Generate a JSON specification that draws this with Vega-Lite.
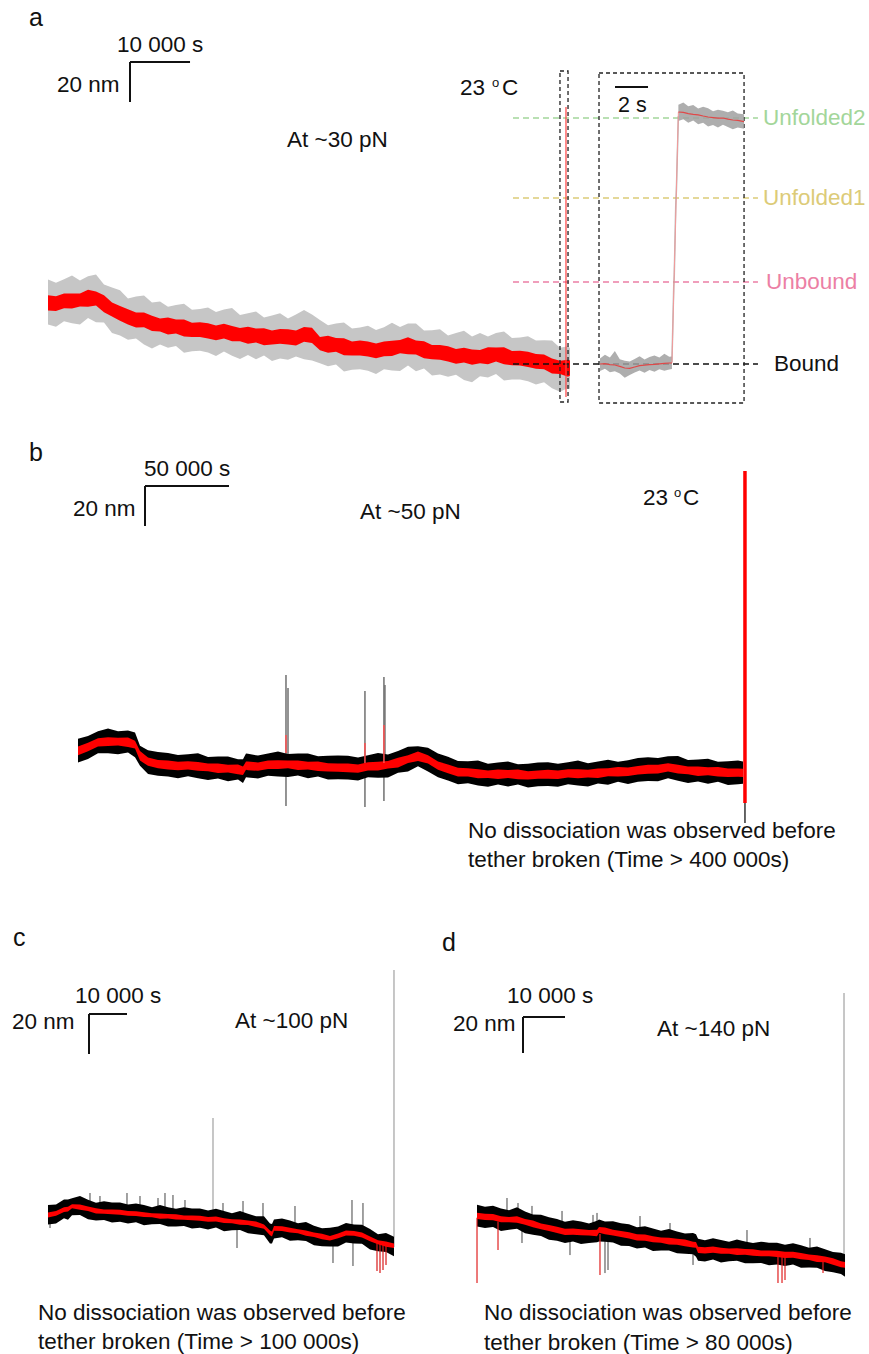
{
  "$schema": "https://vega.github.io/schema/vega-lite/v6.json",
  "padding": 0,
  "background": "white",
  "spacing": 0,
  "config": {
    "view": {"stroke": null},
    "text": {"font": "Liberation Sans", "fontSize": 22.5, "align": "left", "baseline": "alphabetic", "color": "#111111"}
  },
  "datasets": {
    "aTrace": [
      {"t": 0, "g1": 19.7, "g2": 42.2, "r1": 26.8, "r2": 34.4},
      {"t": 1.33, "g1": 18.6, "g2": 40.6, "r1": 26.5, "r2": 33.9},
      {"t": 2.67, "g1": 21.4, "g2": 42.4, "r1": 27.9, "r2": 35.3},
      {"t": 4, "g1": 20.4, "g2": 44.3, "r1": 27.7, "r2": 35.3},
      {"t": 5.33, "g1": 19.8, "g2": 41.8, "r1": 28.7, "r2": 35.3},
      {"t": 6.67, "g1": 23.0, "g2": 43.9, "r1": 28.6, "r2": 37.1},
      {"t": 8, "g1": 20.9, "g2": 44.7, "r1": 29.3, "r2": 36.2},
      {"t": 9.33, "g1": 20.7, "g2": 39.7, "r1": 25.9, "r2": 34.4},
      {"t": 10.67, "g1": 15.5, "g2": 38.2, "r1": 23.7, "r2": 30.8},
      {"t": 12, "g1": 14.3, "g2": 36.9, "r1": 21.6, "r2": 29.0},
      {"t": 13.33, "g1": 12.1, "g2": 32.7, "r1": 19.8, "r2": 27.4},
      {"t": 14.67, "g1": 12.8, "g2": 33.7, "r1": 18.3, "r2": 25.7},
      {"t": 16, "g1": 9.7, "g2": 34.3, "r1": 18.4, "r2": 25.8},
      {"t": 17.33, "g1": 7.8, "g2": 30.7, "r1": 16.5, "r2": 24.1},
      {"t": 18.67, "g1": 9.7, "g2": 31.3, "r1": 16.2, "r2": 22.8},
      {"t": 20, "g1": 8.1, "g2": 28.6, "r1": 14.8, "r2": 23.3},
      {"t": 21.33, "g1": 9.0, "g2": 29.5, "r1": 15.3, "r2": 22.2},
      {"t": 22.67, "g1": 5.6, "g2": 30.1, "r1": 13.7, "r2": 22.2},
      {"t": 24, "g1": 6.4, "g2": 27.1, "r1": 13.5, "r2": 20.6},
      {"t": 25.33, "g1": 6.6, "g2": 27.5, "r1": 13.5, "r2": 20.9},
      {"t": 26.67, "g1": 5.7, "g2": 28.2, "r1": 12.8, "r2": 20.4},
      {"t": 28, "g1": 4.0, "g2": 26.0, "r1": 11.9, "r2": 19.3},
      {"t": 29.33, "g1": 6.2, "g2": 27.2, "r1": 12.7, "r2": 20.1},
      {"t": 30.67, "g1": 4.1, "g2": 28.0, "r1": 11.4, "r2": 19.0},
      {"t": 32, "g1": 2.5, "g2": 24.5, "r1": 11.4, "r2": 18.0},
      {"t": 33.33, "g1": 4.5, "g2": 25.4, "r1": 10.1, "r2": 18.6},
      {"t": 34.67, "g1": 2.4, "g2": 26.2, "r1": 10.8, "r2": 17.7},
      {"t": 36, "g1": 4.2, "g2": 23.2, "r1": 9.4, "r2": 17.9},
      {"t": 37.33, "g1": 1.5, "g2": 24.2, "r1": 9.7, "r2": 16.8},
      {"t": 38.67, "g1": 2.8, "g2": 25.4, "r1": 10.1, "r2": 17.5},
      {"t": 40, "g1": 2.1, "g2": 22.7, "r1": 9.8, "r2": 17.4},
      {"t": 41.33, "g1": 3.8, "g2": 24.7, "r1": 9.3, "r2": 16.7},
      {"t": 42.67, "g1": 2.4, "g2": 27.0, "r1": 11.1, "r2": 18.5},
      {"t": 44, "g1": 1.8, "g2": 24.7, "r1": 10.5, "r2": 18.1},
      {"t": 45.33, "g1": 0.4, "g2": 22.0, "r1": 6.9, "r2": 13.5},
      {"t": 46.67, "g1": -1.1, "g2": 19.4, "r1": 5.6, "r2": 14.1},
      {"t": 48, "g1": -0.2, "g2": 20.3, "r1": 6.1, "r2": 13.0},
      {"t": 49.33, "g1": -3.7, "g2": 20.8, "r1": 4.4, "r2": 12.9},
      {"t": 50.67, "g1": -2.9, "g2": 17.8, "r1": 4.2, "r2": 11.3},
      {"t": 52, "g1": -2.6, "g2": 18.3, "r1": 4.3, "r2": 11.7},
      {"t": 53.33, "g1": -3.4, "g2": 19.1, "r1": 3.7, "r2": 11.3},
      {"t": 54.67, "g1": -5.0, "g2": 17.0, "r1": 2.9, "r2": 10.3},
      {"t": 56, "g1": -2.6, "g2": 18.4, "r1": 3.9, "r2": 11.3},
      {"t": 57.33, "g1": -3.3, "g2": 20.6, "r1": 4.0, "r2": 11.6},
      {"t": 58.67, "g1": -3.5, "g2": 18.5, "r1": 5.4, "r2": 12.0},
      {"t": 60, "g1": -0.7, "g2": 20.2, "r1": 4.9, "r2": 13.4},
      {"t": 61.33, "g1": -3.6, "g2": 20.2, "r1": 4.8, "r2": 11.7},
      {"t": 62.67, "g1": -2.3, "g2": 16.7, "r1": 2.9, "r2": 11.4},
      {"t": 64, "g1": -5.8, "g2": 16.9, "r1": 2.4, "r2": 9.5},
      {"t": 65.33, "g1": -5.2, "g2": 17.4, "r1": 2.1, "r2": 9.5},
      {"t": 66.67, "g1": -6.4, "g2": 14.2, "r1": 1.3, "r2": 8.9},
      {"t": 68, "g1": -5.4, "g2": 15.5, "r1": 0.1, "r2": 7.5},
      {"t": 69.33, "g1": -8.0, "g2": 16.6, "r1": 0.7, "r2": 8.1},
      {"t": 70.67, "g1": -9.1, "g2": 13.8, "r1": -0.4, "r2": 7.2},
      {"t": 72, "g1": -6.1, "g2": 15.5, "r1": 0.4, "r2": 7.0},
      {"t": 73.33, "g1": -6.8, "g2": 13.7, "r1": -0.1, "r2": 8.4},
      {"t": 74.67, "g1": -5.0, "g2": 15.5, "r1": 1.3, "r2": 8.2},
      {"t": 76, "g1": -8.2, "g2": 16.3, "r1": -0.1, "r2": 8.4},
      {"t": 77.33, "g1": -7.7, "g2": 13.0, "r1": -0.6, "r2": 6.5},
      {"t": 78.67, "g1": -7.7, "g2": 13.2, "r1": -0.8, "r2": 6.6},
      {"t": 80, "g1": -8.6, "g2": 13.9, "r1": -1.5, "r2": 6.1},
      {"t": 81.33, "g1": -10.3, "g2": 11.7, "r1": -2.4, "r2": 5.0},
      {"t": 82.67, "g1": -9.1, "g2": 11.9, "r1": -2.6, "r2": 4.8},
      {"t": 84, "g1": -12.1, "g2": 11.8, "r1": -4.8, "r2": 2.8},
      {"t": 85.33, "g1": -13.9, "g2": 8.1, "r1": -5.0, "r2": 1.6},
      {"t": 86.67, "g1": -12.0, "g2": 8.9, "r1": -6.4, "r2": 2.1},
      {"t": 87, "g1": -12.5, "g2": 8.0, "r1": -5.8, "r2": 1.8}
    ],
    "aLevels": [
      {"name": "Unfolded2", "t": 77.5, "t2": 118.33, "v": 123},
      {"name": "Unfolded1", "t": 77.5, "t2": 118.33, "v": 83},
      {"name": "Unbound", "t": 77.5, "t2": 118.33, "v": 41},
      {"name": "Bound", "t": 77.5, "t2": 118.33, "v": 0}
    ],
    "aLevelLabels": [
      {"name": "Unfolded2", "t": 119.17, "v": 123},
      {"name": "Unfolded1", "t": 119.17, "v": 83},
      {"name": "Unbound", "t": 119.67, "v": 41},
      {"name": "Bound", "t": 121, "v": 0}
    ],
    "aBox": [{"t": 85.33, "t2": 86.67, "v": -19, "v2": 146.5}],
    "aEvent": [{"t": 86.33, "v": -16.5, "v2": 128.5}],
    "aBar": [
      {"t": 13.67, "t2": 23.67, "v": 151, "v2": 151},
      {"t": 13.67, "t2": 13.67, "v": 151, "v2": 131}
    ],
    "aLetter": [{"t": -3.17, "v": 169, "label": "a"}],
    "aText": [
      {"t": 11.5, "v": 156, "label": "10 000 s"},
      {"t": 1.5, "v": 136, "label": "20 nm"},
      {"t": 39.83, "v": 108.5, "label": "At ~30 pN"},
      {"t": 68.67, "v": 134.5, "label": "23"},
      {"t": 75.67, "v": 134.5, "label": "C"}
    ],
    "aSup": [{"t": 74.0, "v": 138.5, "label": "o"}],
    "insetBox": [{"t": -0.06, "t2": 8.73, "v": -19.5, "v2": 145.5}],
    "insetTrace": [
      {"seg": "bound", "t": 0, "g1": -3.5, "g2": 2.8, "c": 0},
      {"seg": "bound", "t": 0.3, "g1": -2.4, "g2": 4.6, "c": 0.2},
      {"seg": "bound", "t": 0.6, "g1": -4.1, "g2": 3.2, "c": -0.3},
      {"seg": "bound", "t": 0.9, "g1": -3.6, "g2": 6.5, "c": -0.5},
      {"seg": "bound", "t": 1.2, "g1": -4.8, "g2": 2.4, "c": -1.2},
      {"seg": "bound", "t": 1.5, "g1": -6.9, "g2": 1.6, "c": -2.0},
      {"seg": "bound", "t": 1.8, "g1": -5.5, "g2": 1.2, "c": -2.2},
      {"seg": "bound", "t": 2.1, "g1": -4.3, "g2": 2.5, "c": -1.5},
      {"seg": "bound", "t": 2.4, "g1": -3.2, "g2": 3.9, "c": -0.8},
      {"seg": "bound", "t": 2.7, "g1": -4.4, "g2": 2.2, "c": -0.6},
      {"seg": "bound", "t": 3.0, "g1": -3.0, "g2": 3.5, "c": -0.3},
      {"seg": "bound", "t": 3.3, "g1": -3.9, "g2": 4.2, "c": -0.2},
      {"seg": "bound", "t": 3.6, "g1": -2.6, "g2": 3.3, "c": 0.1},
      {"seg": "bound", "t": 3.9, "g1": -3.4, "g2": 5.1, "c": 0.3},
      {"seg": "bound", "t": 4.2, "g1": -2.8, "g2": 3.6, "c": 0.5},
      {"seg": "bound", "t": 4.36, "g1": -2.5, "g2": 3.8, "c": 0.5},
      {"seg": "open", "t": 4.75, "g1": 121.5, "g2": 129.6, "c": 126},
      {"seg": "open", "t": 5.05, "g1": 122.4, "g2": 130.8, "c": 125.8},
      {"seg": "open", "t": 5.35, "g1": 120.6, "g2": 128.9, "c": 125.2},
      {"seg": "open", "t": 5.65, "g1": 121.8, "g2": 129.5, "c": 124.8},
      {"seg": "open", "t": 5.95, "g1": 119.9, "g2": 127.8, "c": 124.6},
      {"seg": "open", "t": 6.25, "g1": 120.6, "g2": 128.6, "c": 124.0},
      {"seg": "open", "t": 6.55, "g1": 118.8, "g2": 127.9, "c": 123.5},
      {"seg": "open", "t": 6.85, "g1": 119.5, "g2": 126.4, "c": 123.2},
      {"seg": "open", "t": 7.15, "g1": 118.2, "g2": 127.1, "c": 122.9},
      {"seg": "open", "t": 7.45, "g1": 119.6, "g2": 126.6, "c": 123.0},
      {"seg": "open", "t": 7.75, "g1": 118.5, "g2": 125.9, "c": 122.4},
      {"seg": "open", "t": 8.05, "g1": 117.4, "g2": 126.8, "c": 122.0},
      {"seg": "open", "t": 8.35, "g1": 118.3, "g2": 125.2, "c": 121.8},
      {"seg": "open", "t": 8.73, "g1": 117.6, "g2": 124.9, "c": 121.2}
    ],
    "insetJumpRaw": [
      {"t": 4.36, "v": 1},
      {"t": 4.47, "v": 39},
      {"t": 4.5, "v": 44},
      {"t": 4.59, "v": 79},
      {"t": 4.63, "v": 87},
      {"t": 4.75, "v": 124}
    ],
    "insetJump": [
      {"t": 4.36, "v": 0.5},
      {"t": 4.75, "v": 126}
    ],
    "insetBar": [{"t": 0.91, "t2": 2.91, "v": 138.5}],
    "insetText": [{"t": 1.09, "v": 126, "label": "2 s"}],
    "bTrace": [
      {"t": 0, "b1": 5.3, "b2": 17.1, "r1": 8.9, "r2": 13.3},
      {"t": 5.95, "b1": 7.0, "b2": 18.5, "r1": 10.9, "r2": 15.1},
      {"t": 11.9, "b1": 9.9, "b2": 20.9, "r1": 13.2, "r2": 17.4},
      {"t": 17.86, "b1": 9.9, "b2": 22.3, "r1": 13.5, "r2": 17.9},
      {"t": 23.81, "b1": 9.4, "b2": 20.9, "r1": 13.8, "r2": 17.6},
      {"t": 29.76, "b1": 10.3, "b2": 21.2, "r1": 13.0, "r2": 17.8},
      {"t": 33.93, "b1": 7.9, "b2": 20.3, "r1": 12.2, "r2": 16.1},
      {"t": 36.9, "b1": 3.6, "b2": 13.6, "r1": 6.2, "r2": 11.0},
      {"t": 41.67, "b1": -0.5, "b2": 11.4, "r1": 3.6, "r2": 7.7},
      {"t": 47.62, "b1": -1.4, "b2": 10.5, "r1": 2.4, "r2": 6.5},
      {"t": 53.57, "b1": -1.8, "b2": 10.0, "r1": 1.8, "r2": 6.2},
      {"t": 59.52, "b1": -2.6, "b2": 9.0, "r1": 1.4, "r2": 5.6},
      {"t": 65.48, "b1": -1.6, "b2": 9.4, "r1": 1.7, "r2": 5.9},
      {"t": 71.43, "b1": -2.6, "b2": 9.9, "r1": 1.1, "r2": 5.5},
      {"t": 77.38, "b1": -3.5, "b2": 8.0, "r1": 0.9, "r2": 4.7},
      {"t": 83.33, "b1": -2.7, "b2": 8.2, "r1": 0.0, "r2": 4.8},
      {"t": 89.29, "b1": -4.1, "b2": 8.3, "r1": 0.2, "r2": 4.1},
      {"t": 95.24, "b1": -3.2, "b2": 6.9, "r1": -0.6, "r2": 4.3},
      {"t": 98.21, "b1": -5.0, "b2": 6.9, "r1": -1.0, "r2": 3.2},
      {"t": 100, "b1": -2.1, "b2": 9.7, "r1": 1.6, "r2": 5.7},
      {"t": 101.19, "b1": -2.2, "b2": 9.6, "r1": 1.4, "r2": 5.8},
      {"t": 107.14, "b1": -2.8, "b2": 8.7, "r1": 1.1, "r2": 5.3},
      {"t": 113.1, "b1": -1.4, "b2": 9.7, "r1": 2.0, "r2": 6.2},
      {"t": 119.05, "b1": -1.7, "b2": 10.8, "r1": 2.0, "r2": 6.4},
      {"t": 125, "b1": -2.0, "b2": 9.5, "r1": 2.4, "r2": 6.2},
      {"t": 130.95, "b1": -1.2, "b2": 9.7, "r1": 1.5, "r2": 6.3},
      {"t": 136.9, "b1": -2.6, "b2": 9.8, "r1": 1.7, "r2": 5.6},
      {"t": 142.86, "b1": -1.7, "b2": 8.4, "r1": 1.0, "r2": 5.8},
      {"t": 148.81, "b1": -3.2, "b2": 8.6, "r1": 0.8, "r2": 4.9},
      {"t": 154.76, "b1": -3.1, "b2": 8.7, "r1": 0.6, "r2": 4.7},
      {"t": 160.71, "b1": -3.2, "b2": 8.6, "r1": 0.4, "r2": 4.8},
      {"t": 166.67, "b1": -3.8, "b2": 7.7, "r1": 0.1, "r2": 4.3},
      {"t": 172.62, "b1": -2.1, "b2": 8.9, "r1": 1.2, "r2": 5.4},
      {"t": 178.57, "b1": -2.4, "b2": 10.0, "r1": 1.2, "r2": 5.6},
      {"t": 184.52, "b1": -2.3, "b2": 9.3, "r1": 2.2, "r2": 6.0},
      {"t": 190.48, "b1": 0.1, "b2": 11.0, "r1": 2.8, "r2": 7.6},
      {"t": 196.43, "b1": 0.7, "b2": 13.1, "r1": 5.0, "r2": 8.9},
      {"t": 202.38, "b1": 3.4, "b2": 13.4, "r1": 6.0, "r2": 10.8},
      {"t": 208.33, "b1": 0.8, "b2": 12.6, "r1": 4.8, "r2": 8.9},
      {"t": 214.29, "b1": -2.1, "b2": 9.7, "r1": 1.6, "r2": 5.7},
      {"t": 220.24, "b1": -3.7, "b2": 8.1, "r1": -0.1, "r2": 4.3},
      {"t": 226.19, "b1": -5.6, "b2": 6.0, "r1": -1.7, "r2": 2.6},
      {"t": 232.14, "b1": -5.1, "b2": 5.9, "r1": -1.8, "r2": 2.4},
      {"t": 238.1, "b1": -6.2, "b2": 6.3, "r1": -2.6, "r2": 1.9},
      {"t": 244.05, "b1": -6.9, "b2": 4.6, "r1": -2.5, "r2": 1.3},
      {"t": 250, "b1": -5.7, "b2": 5.2, "r1": -3.0, "r2": 1.8},
      {"t": 255.95, "b1": -6.8, "b2": 5.7, "r1": -2.5, "r2": 1.5},
      {"t": 261.9, "b1": -5.7, "b2": 4.4, "r1": -3.1, "r2": 1.8},
      {"t": 267.86, "b1": -7.2, "b2": 4.6, "r1": -3.2, "r2": 0.9},
      {"t": 273.81, "b1": -6.6, "b2": 5.2, "r1": -2.9, "r2": 1.2},
      {"t": 279.76, "b1": -6.5, "b2": 5.4, "r1": -2.9, "r2": 1.6},
      {"t": 285.71, "b1": -6.9, "b2": 4.6, "r1": -3.0, "r2": 1.2},
      {"t": 291.67, "b1": -5.6, "b2": 5.4, "r1": -2.3, "r2": 1.9},
      {"t": 297.62, "b1": -6.2, "b2": 6.3, "r1": -2.6, "r2": 1.9},
      {"t": 303.57, "b1": -6.7, "b2": 4.9, "r1": -2.3, "r2": 1.6},
      {"t": 309.52, "b1": -5.2, "b2": 5.7, "r1": -2.5, "r2": 2.3},
      {"t": 315.48, "b1": -5.9, "b2": 6.6, "r1": -1.6, "r2": 2.4},
      {"t": 321.43, "b1": -4.4, "b2": 5.6, "r1": -1.8, "r2": 3.0},
      {"t": 327.38, "b1": -5.5, "b2": 6.4, "r1": -1.5, "r2": 2.7},
      {"t": 333.33, "b1": -4.4, "b2": 7.5, "r1": -0.7, "r2": 3.5},
      {"t": 339.29, "b1": -4.0, "b2": 7.9, "r1": -0.4, "r2": 4.1},
      {"t": 345.24, "b1": -4.1, "b2": 7.5, "r1": -0.2, "r2": 4.1},
      {"t": 351.19, "b1": -2.6, "b2": 8.4, "r1": 0.7, "r2": 4.9},
      {"t": 357.14, "b1": -3.9, "b2": 8.5, "r1": -0.3, "r2": 4.1},
      {"t": 363.1, "b1": -5.0, "b2": 6.5, "r1": -0.6, "r2": 3.2},
      {"t": 369.05, "b1": -4.2, "b2": 6.7, "r1": -1.5, "r2": 3.3},
      {"t": 375, "b1": -5.4, "b2": 7.1, "r1": -1.1, "r2": 2.9},
      {"t": 380.95, "b1": -4.4, "b2": 5.6, "r1": -1.8, "r2": 3.0},
      {"t": 386.9, "b1": -6.0, "b2": 5.9, "r1": -2.0, "r2": 2.2},
      {"t": 392.86, "b1": -5.6, "b2": 6.2, "r1": -1.9, "r2": 2.2},
      {"t": 395.83, "b1": -5.4, "b2": 5.8, "r1": -2.0, "r2": 2.1}
    ],
    "bSpikes": [
      {"t": 123.8, "v": -16.5, "v2": 49},
      {"t": 125, "v": 5, "v2": 42.5},
      {"t": 170.8, "v": -17, "v2": 41},
      {"t": 182.1, "v": -14, "v2": 48},
      {"t": 182.7, "v": 0, "v2": 44}
    ],
    "bSpikesFiltered": [
      {"t": 123.8, "v": 10, "v2": 19},
      {"t": 170.8, "v": 5, "v2": 15},
      {"t": 182.1, "v": 5, "v2": 24}
    ],
    "bBreakRaw": [{"t": 397.0, "v": -25, "v2": -10}],
    "bBreak": [{"t": 397.0, "v": -15, "v2": 151}],
    "bBar": [
      {"t": 39.88, "t2": 89.88, "v": 143.5, "v2": 143.5},
      {"t": 39.88, "t2": 39.88, "v": 143.5, "v2": 123.5}
    ],
    "bLetter": [{"t": -29.17, "v": 156, "label": "b"}],
    "bText": [
      {"t": 39.29, "v": 148.5, "label": "50 000 s"},
      {"t": -2.98, "v": 128.5, "label": "20 nm"},
      {"t": 167.86, "v": 127, "label": "At ~50 pN"},
      {"t": 336.3, "v": 134, "label": "23"},
      {"t": 360.1, "v": 134, "label": "C"},
      {"t": 232.14, "v": -32.5, "label": "No dissociation was observed before"},
      {"t": 232.14, "v": -47, "label": "tether broken (Time > 400 000s)"}
    ],
    "bSup": [{"t": 354.76, "v": 138, "label": "o"}],
    "cTrace": [
      {"t": 0, "b1": 4.3, "b2": 14.0, "r1": 7.8, "r2": 10.3},
      {"t": 2.11, "b1": 4.8, "b2": 14.2, "r1": 8.6, "r2": 11.0},
      {"t": 4.21, "b1": 7.4, "b2": 16.8, "r1": 10.5, "r2": 12.9},
      {"t": 5.26, "b1": 6.6, "b2": 16.7, "r1": 10.7, "r2": 13.1},
      {"t": 6.32, "b1": 8.9, "b2": 17.4, "r1": 12.4, "r2": 14.4},
      {"t": 8.42, "b1": 9.0, "b2": 18.5, "r1": 11.6, "r2": 14.3},
      {"t": 10.53, "b1": 6.9, "b2": 16.6, "r1": 11.0, "r2": 13.2},
      {"t": 12.63, "b1": 6.2, "b2": 15.1, "r1": 9.7, "r2": 12.4},
      {"t": 14.74, "b1": 6.5, "b2": 15.9, "r1": 9.6, "r2": 11.8},
      {"t": 16.84, "b1": 5.2, "b2": 15.3, "r1": 9.4, "r2": 11.7},
      {"t": 18.95, "b1": 5.6, "b2": 15.3, "r1": 9.1, "r2": 11.6},
      {"t": 21.05, "b1": 4.8, "b2": 14.2, "r1": 8.6, "r2": 11.0},
      {"t": 23.16, "b1": 5.4, "b2": 14.8, "r1": 8.5, "r2": 10.9},
      {"t": 25.26, "b1": 3.9, "b2": 14.0, "r1": 8.0, "r2": 10.4},
      {"t": 27.37, "b1": 4.4, "b2": 12.9, "r1": 7.9, "r2": 9.9},
      {"t": 29.47, "b1": 4.5, "b2": 14.0, "r1": 7.1, "r2": 9.8},
      {"t": 31.58, "b1": 3.2, "b2": 12.9, "r1": 7.3, "r2": 9.5},
      {"t": 33.68, "b1": 3.2, "b2": 12.1, "r1": 6.7, "r2": 9.4},
      {"t": 35.79, "b1": 3.5, "b2": 12.9, "r1": 6.6, "r2": 8.8},
      {"t": 37.89, "b1": 2.2, "b2": 12.3, "r1": 6.4, "r2": 8.7},
      {"t": 40, "b1": 2.6, "b2": 12.3, "r1": 6.1, "r2": 8.6},
      {"t": 42.11, "b1": 1.8, "b2": 11.2, "r1": 5.6, "r2": 8.0},
      {"t": 44.21, "b1": 2.7, "b2": 12.1, "r1": 5.8, "r2": 8.2},
      {"t": 46.32, "b1": 0.9, "b2": 11.0, "r1": 5.0, "r2": 7.4},
      {"t": 48.42, "b1": 1.4, "b2": 9.9, "r1": 4.9, "r2": 6.9},
      {"t": 50.53, "b1": 1.5, "b2": 11.0, "r1": 4.1, "r2": 6.8},
      {"t": 52.63, "b1": -0.1, "b2": 9.6, "r1": 4.0, "r2": 6.2},
      {"t": 54.74, "b1": -0.6, "b2": 8.4, "r1": 3.0, "r2": 5.7},
      {"t": 56.84, "b1": -1.1, "b2": 8.4, "r1": 2.1, "r2": 4.3},
      {"t": 58.42, "b1": -5.3, "b2": 4.8, "r1": -1.1, "r2": 1.2},
      {"t": 58.95, "b1": -5.2, "b2": 4.5, "r1": -1.7, "r2": 0.8},
      {"t": 59.47, "b1": -2.7, "b2": 6.7, "r1": 1.1, "r2": 3.5},
      {"t": 61.58, "b1": -2.1, "b2": 7.3, "r1": 1.0, "r2": 3.4},
      {"t": 63.68, "b1": -3.9, "b2": 6.2, "r1": 0.2, "r2": 2.6},
      {"t": 65.79, "b1": -3.6, "b2": 4.9, "r1": -0.1, "r2": 1.9},
      {"t": 67.89, "b1": -4.0, "b2": 5.5, "r1": -1.4, "r2": 1.3},
      {"t": 70, "b1": -6.1, "b2": 3.6, "r1": -2.0, "r2": 0.2},
      {"t": 72.11, "b1": -6.6, "b2": 2.4, "r1": -3.1, "r2": -0.4},
      {"t": 74.21, "b1": -6.8, "b2": 2.6, "r1": -3.7, "r2": -1.5},
      {"t": 76.32, "b1": -6.8, "b2": 3.3, "r1": -2.6, "r2": -0.3},
      {"t": 78.42, "b1": -4.7, "b2": 5.0, "r1": -1.2, "r2": 1.3},
      {"t": 80.53, "b1": -5.2, "b2": 4.2, "r1": -1.4, "r2": 1.0},
      {"t": 82.63, "b1": -5.4, "b2": 4.1, "r1": -2.3, "r2": 0.2},
      {"t": 84.74, "b1": -8.2, "b2": 2.0, "r1": -4.1, "r2": -1.7},
      {"t": 86.84, "b1": -9.1, "b2": -0.6, "r1": -5.6, "r2": -3.6},
      {"t": 88.95, "b1": -9.5, "b2": 0.0, "r1": -6.9, "r2": -4.2},
      {"t": 91.05, "b1": -11.6, "b2": -1.9, "r1": -7.5, "r2": -5.3}
    ],
    "cGrey": [
      {"t": 43.42, "v": 5, "v2": 57.5},
      {"t": 91.05, "v": -7, "v2": 131.5}
    ],
    "cNoise": [
      {"t": 11.05, "v": 10, "v2": 20},
      {"t": 13.68, "v": 9, "v2": 18.5},
      {"t": 20.79, "v": 8, "v2": 20},
      {"t": 24.21, "v": 7, "v2": 18.5},
      {"t": 28.95, "v": 6, "v2": 17.5},
      {"t": 30.79, "v": 6, "v2": 20},
      {"t": 32.89, "v": 6, "v2": 19},
      {"t": 36.05, "v": 5, "v2": 16.5},
      {"t": 46.05, "v": 4, "v2": 15},
      {"t": 51.32, "v": 3, "v2": 16},
      {"t": 56.58, "v": 1, "v2": 15},
      {"t": 65, "v": 0, "v2": 13.5},
      {"t": 80, "v": -2, "v2": 16.5},
      {"t": 82.89, "v": -3, "v2": 15},
      {"t": 0.53, "v": 2.5, "v2": 8},
      {"t": 49.74, "v": -7.5, "v2": 3},
      {"t": 75, "v": -15, "v2": -3},
      {"t": 80.26, "v": -16.5, "v2": -3}
    ],
    "cDips": [
      {"t": 86.58, "v": -19, "v2": -5},
      {"t": 87.37, "v": -20, "v2": -5},
      {"t": 88.16, "v": -18.5, "v2": -5},
      {"t": 88.95, "v": -16, "v2": -5}
    ],
    "cBar": [
      {"t": 10.79, "t2": 20.79, "v": 109.5, "v2": 109.5},
      {"t": 10.79, "t2": 10.79, "v": 109.5, "v2": 89.5}
    ],
    "cLetter": [{"t": -9.21, "v": 143.5, "label": "c"}],
    "cText": [
      {"t": 7.11, "v": 115, "label": "10 000 s"},
      {"t": -9.47, "v": 102, "label": "20 nm"},
      {"t": 49.21, "v": 102.5, "label": "At ~100 pN"},
      {"t": -2.63, "v": -43.5, "label": "No dissociation was observed before"},
      {"t": -2.63, "v": -58, "label": "tether broken (Time > 100 000s)"}
    ],
    "dTrace": [
      {"t": 0.24, "b1": 9.1, "b2": 21.2, "r1": 13.3, "r2": 16.8},
      {"t": 2.14, "b1": 8.3, "b2": 20.1, "r1": 12.8, "r2": 16.2},
      {"t": 4.05, "b1": 8.9, "b2": 20.7, "r1": 12.7, "r2": 16.1},
      {"t": 5.95, "b1": 6.7, "b2": 19.2, "r1": 11.5, "r2": 14.9},
      {"t": 7.86, "b1": 7.3, "b2": 18.2, "r1": 11.5, "r2": 14.5},
      {"t": 9.76, "b1": 7.9, "b2": 19.8, "r1": 11.2, "r2": 14.9},
      {"t": 11.67, "b1": 5.4, "b2": 17.5, "r1": 10.2, "r2": 13.4},
      {"t": 13.57, "b1": 4.6, "b2": 15.9, "r1": 8.8, "r2": 12.5},
      {"t": 15.48, "b1": 3.9, "b2": 15.7, "r1": 7.7, "r2": 10.9},
      {"t": 17.38, "b1": 1.8, "b2": 14.3, "r1": 6.7, "r2": 10.0},
      {"t": 19.29, "b1": 1.3, "b2": 13.4, "r1": 5.5, "r2": 9.0},
      {"t": 21.19, "b1": 0.0, "b2": 11.8, "r1": 4.5, "r2": 7.9},
      {"t": 23.1, "b1": 0.8, "b2": 12.6, "r1": 4.6, "r2": 8.0},
      {"t": 25, "b1": -0.5, "b2": 12.0, "r1": 4.3, "r2": 7.7},
      {"t": 26.9, "b1": 0.0, "b2": 10.9, "r1": 4.2, "r2": 7.2},
      {"t": 28.81, "b1": 0.4, "b2": 12.3, "r1": 3.7, "r2": 7.4},
      {"t": 29.29, "b1": 0.9, "b2": 13.0, "r1": 5.7, "r2": 8.9},
      {"t": 30.71, "b1": 0.7, "b2": 12.0, "r1": 4.9, "r2": 8.6},
      {"t": 32.62, "b1": 0.3, "b2": 12.1, "r1": 4.1, "r2": 7.3},
      {"t": 34.52, "b1": -1.5, "b2": 11.0, "r1": 3.4, "r2": 6.7},
      {"t": 36.43, "b1": -1.7, "b2": 10.4, "r1": 2.5, "r2": 6.0},
      {"t": 38.33, "b1": -3.1, "b2": 8.7, "r1": 1.4, "r2": 4.8},
      {"t": 40.24, "b1": -2.5, "b2": 9.3, "r1": 1.3, "r2": 4.7},
      {"t": 42.14, "b1": -4.4, "b2": 8.1, "r1": 0.4, "r2": 3.8},
      {"t": 44.05, "b1": -4.1, "b2": 6.8, "r1": 0.1, "r2": 3.1},
      {"t": 45.95, "b1": -4.1, "b2": 7.8, "r1": -0.8, "r2": 2.9},
      {"t": 47.86, "b1": -5.7, "b2": 6.4, "r1": -0.9, "r2": 2.3},
      {"t": 49.76, "b1": -6.0, "b2": 5.3, "r1": -1.8, "r2": 1.9},
      {"t": 51.67, "b1": -6.3, "b2": 5.5, "r1": -2.5, "r2": 0.7},
      {"t": 52.38, "b1": -7.6, "b2": 4.9, "r1": -2.7, "r2": 0.6},
      {"t": 52.86, "b1": -9.8, "b2": 2.3, "r1": -5.6, "r2": -2.1},
      {"t": 54.52, "b1": -10.3, "b2": 1.5, "r1": -5.8, "r2": -2.4},
      {"t": 56.43, "b1": -9.2, "b2": 2.6, "r1": -5.4, "r2": -2.0},
      {"t": 58.33, "b1": -10.8, "b2": 1.7, "r1": -6.0, "r2": -2.6},
      {"t": 60.24, "b1": -10.2, "b2": 0.7, "r1": -6.0, "r2": -3.0},
      {"t": 62.14, "b1": -9.9, "b2": 2.0, "r1": -6.6, "r2": -2.9},
      {"t": 64.05, "b1": -11.3, "b2": 0.8, "r1": -6.5, "r2": -3.3},
      {"t": 65.95, "b1": -11.3, "b2": 0.0, "r1": -7.1, "r2": -3.4},
      {"t": 67.86, "b1": -11.1, "b2": 0.7, "r1": -7.3, "r2": -4.1},
      {"t": 69.76, "b1": -12.3, "b2": 0.2, "r1": -7.4, "r2": -4.1},
      {"t": 71.67, "b1": -12.0, "b2": 0.1, "r1": -7.8, "r2": -4.3},
      {"t": 73.57, "b1": -12.8, "b2": -1.0, "r1": -8.3, "r2": -4.9},
      {"t": 75.48, "b1": -12.0, "b2": -0.2, "r1": -8.2, "r2": -4.8},
      {"t": 77.38, "b1": -13.8, "b2": -1.3, "r1": -9.0, "r2": -5.6},
      {"t": 79.29, "b1": -13.6, "b2": -2.7, "r1": -9.4, "r2": -6.4},
      {"t": 81.19, "b1": -13.8, "b2": -1.9, "r1": -10.5, "r2": -6.8},
      {"t": 83.1, "b1": -15.5, "b2": -3.4, "r1": -10.7, "r2": -7.5},
      {"t": 85, "b1": -16.3, "b2": -5.0, "r1": -12.1, "r2": -8.4},
      {"t": 86.9, "b1": -17.2, "b2": -5.4, "r1": -13.4, "r2": -10.2},
      {"t": 87.86, "b1": -18.7, "b2": -6.2, "r1": -13.8, "r2": -10.5}
    ],
    "dGrey": [{"t": 87.62, "v": -12, "v2": 138.9}],
    "dNoise": [
      {"t": 7.38, "v": 12, "v2": 25},
      {"t": 10, "v": 12, "v2": 22.2},
      {"t": 13.33, "v": 10, "v2": 20.6},
      {"t": 20.48, "v": 7, "v2": 17.8},
      {"t": 27.86, "v": 5, "v2": 15.6},
      {"t": 28.81, "v": 5, "v2": 16.7},
      {"t": 39.05, "v": 3, "v2": 15},
      {"t": 46.19, "v": 1, "v2": 11.1},
      {"t": 64.52, "v": -5, "v2": 7.2},
      {"t": 79.52, "v": -7, "v2": 2.8},
      {"t": 10.95, "v": 0, "v2": 10},
      {"t": 22.38, "v": -6.7, "v2": 5},
      {"t": 30.71, "v": -16.7, "v2": 5},
      {"t": 31.43, "v": -15, "v2": 5},
      {"t": 51.67, "v": -12.2, "v2": -2}
    ],
    "dDips": [
      {"t": 0.24, "v": -22.2, "v2": 14},
      {"t": 5.24, "v": -3.9, "v2": 12},
      {"t": 29.52, "v": -17.8, "v2": 5},
      {"t": 71.9, "v": -22.2, "v2": -6},
      {"t": 72.86, "v": -22.2, "v2": -6},
      {"t": 73.57, "v": -20.6, "v2": -6},
      {"t": 82.62, "v": -16.7, "v2": -9}
    ],
    "dBar": [
      {"t": 11.19, "t2": 21.19, "v": 125.56, "v2": 125.56},
      {"t": 11.19, "t2": 11.19, "v": 125.56, "v2": 105.56}
    ],
    "dLetter": [{"t": -8.1, "v": 162.2, "label": "d"}],
    "dText": [
      {"t": 7.38, "v": 133.3, "label": "10 000 s"},
      {"t": -5.48, "v": 117.8, "label": "20 nm"},
      {"t": 43.1, "v": 115, "label": "At ~140 pN"},
      {"t": 1.9, "v": -43, "label": "No dissociation was observed before"},
      {"t": 1.9, "v": -59.4, "label": "tether broken (Time > 80 000s)"}
    ]
  },
  "vconcat": [
    {
      "width": 869,
      "height": 440,
      "resolve": {"scale": {"x": "independent"}},
      "layer": [
        {
          "encoding": {"x": {"field": "t", "type": "quantitative", "scale": {"domain": [-8, 136.833], "nice": false, "zero": false}, "axis": null}},
          "layer": [
            {"data": {"name": "aTrace"}, "mark": {"type": "area", "color": "#c6c6c6"},
             "encoding": {"y": {"field": "g1", "type": "quantitative", "scale": {"domain": [-38, 182], "nice": false, "zero": false}, "axis": null}, "y2": {"field": "g2"}}},
            {"data": {"name": "aTrace"}, "mark": {"type": "area", "color": "#ff0000"},
             "encoding": {"y": {"field": "r1", "type": "quantitative", "scale": {"domain": [-38, 182], "nice": false, "zero": false}, "axis": null}, "y2": {"field": "r2"}}},
            {"data": {"name": "aLevels"}, "mark": {"type": "rule", "strokeDash": [6, 4], "strokeWidth": 1.3},
             "encoding": {"x2": {"field": "t2"}, "y": {"field": "v", "type": "quantitative", "scale": {"domain": [-38, 182], "nice": false, "zero": false}, "axis": null},
               "color": {"field": "name", "type": "nominal", "scale": {"domain": ["Unfolded2", "Unfolded1", "Unbound", "Bound"], "range": ["#a3d69a", "#dccb78", "#ec7fa5", "#111111"]}, "legend": null}}},
            {"data": {"name": "aLevelLabels"}, "mark": {"type": "text", "baseline": "middle", "fontSize": 22.5},
             "encoding": {"y": {"field": "v", "type": "quantitative", "scale": {"domain": [-38, 182], "nice": false, "zero": false}, "axis": null}, "text": {"field": "name"},
               "color": {"field": "name", "type": "nominal", "scale": {"domain": ["Unfolded2", "Unfolded1", "Unbound", "Bound"], "range": ["#a3d69a", "#dccb78", "#ec7fa5", "#111111"]}, "legend": null}}},
            {"data": {"name": "aBox"}, "mark": {"type": "rect", "filled": false, "stroke": "#222222", "strokeWidth": 1.3, "strokeDash": [4, 3]},
             "encoding": {"x2": {"field": "t2"}, "y": {"field": "v", "type": "quantitative", "scale": {"domain": [-38, 182], "nice": false, "zero": false}, "axis": null}, "y2": {"field": "v2"}}},
            {"data": {"name": "aEvent"}, "mark": {"type": "rule", "color": "#ff4040", "strokeWidth": 1.2},
             "encoding": {"y": {"field": "v", "type": "quantitative", "scale": {"domain": [-38, 182], "nice": false, "zero": false}, "axis": null}, "y2": {"field": "v2"}}},
            {"data": {"name": "aBar"}, "mark": {"type": "rule", "color": "#111111", "strokeWidth": 2},
             "encoding": {"x2": {"field": "t2"}, "y": {"field": "v", "type": "quantitative", "scale": {"domain": [-38, 182], "nice": false, "zero": false}, "axis": null}, "y2": {"field": "v2"}}},
            {"data": {"name": "aLetter"}, "mark": {"type": "text", "fontSize": 25},
             "encoding": {"y": {"field": "v", "type": "quantitative", "scale": {"domain": [-38, 182], "nice": false, "zero": false}, "axis": null}, "text": {"field": "label"}}},
            {"data": {"name": "aText"}, "mark": {"type": "text", "fontSize": 22.5},
             "encoding": {"y": {"field": "v", "type": "quantitative", "scale": {"domain": [-38, 182], "nice": false, "zero": false}, "axis": null}, "text": {"field": "label"}}},
            {"data": {"name": "aSup"}, "mark": {"type": "text", "fontSize": 13},
             "encoding": {"y": {"field": "v", "type": "quantitative", "scale": {"domain": [-38, 182], "nice": false, "zero": false}, "axis": null}, "text": {"field": "label"}}}
          ]
        },
        {
          "encoding": {"x": {"field": "t", "type": "quantitative", "scale": {"domain": [-36.364, 16.303], "nice": false, "zero": false}, "axis": null}},
          "layer": [
            {"data": {"name": "insetBox"}, "mark": {"type": "rect", "filled": false, "stroke": "#222222", "strokeWidth": 1.3, "strokeDash": [4, 3]},
             "encoding": {"x2": {"field": "t2"}, "y": {"field": "v", "type": "quantitative", "scale": {"domain": [-38, 182], "nice": false, "zero": false}, "axis": null}, "y2": {"field": "v2"}}},
            {"data": {"name": "insetTrace"}, "mark": {"type": "area", "color": "#a0a0a0", "opacity": 0.85},
             "encoding": {"y": {"field": "g1", "type": "quantitative", "scale": {"domain": [-38, 182], "nice": false, "zero": false}, "axis": null}, "y2": {"field": "g2"}, "detail": {"field": "seg"}}},
            {"data": {"name": "insetJumpRaw"}, "mark": {"type": "line", "color": "#9a9a9a", "strokeWidth": 1.5, "opacity": 0.7},
             "encoding": {"y": {"field": "v", "type": "quantitative", "scale": {"domain": [-38, 182], "nice": false, "zero": false}, "axis": null}}},
            {"data": {"name": "insetJump"}, "mark": {"type": "line", "color": "#f29a9a", "strokeWidth": 1},
             "encoding": {"y": {"field": "v", "type": "quantitative", "scale": {"domain": [-38, 182], "nice": false, "zero": false}, "axis": null}}},
            {"data": {"name": "insetTrace"}, "mark": {"type": "line", "color": "#e04848", "strokeWidth": 1.2},
             "encoding": {"y": {"field": "c", "type": "quantitative", "scale": {"domain": [-38, 182], "nice": false, "zero": false}, "axis": null}, "detail": {"field": "seg"}}},
            {"data": {"name": "insetBar"}, "mark": {"type": "rule", "color": "#111111", "strokeWidth": 2},
             "encoding": {"x2": {"field": "t2"}, "y": {"field": "v", "type": "quantitative", "scale": {"domain": [-38, 182], "nice": false, "zero": false}, "axis": null}}},
            {"data": {"name": "insetText"}, "mark": {"type": "text", "fontSize": 21.5},
             "encoding": {"y": {"field": "v", "type": "quantitative", "scale": {"domain": [-38, 182], "nice": false, "zero": false}, "axis": null}, "text": {"field": "label"}}}
          ]
        }
      ]
    },
    {
      "width": 869,
      "height": 440,
      "encoding": {"x": {"field": "t", "type": "quantitative", "scale": {"domain": [-46.43, 470.83], "nice": false, "zero": false}, "axis": null}},
      "layer": [
        {"data": {"name": "bSpikes"}, "mark": {"type": "rule", "color": "#707070", "strokeWidth": 1.5},
         "encoding": {"y": {"field": "v", "type": "quantitative", "scale": {"domain": [-55, 165], "nice": false, "zero": false}, "axis": null}, "y2": {"field": "v2"}}},
        {"data": {"name": "bTrace"}, "mark": {"type": "area", "color": "#000000"},
         "encoding": {"y": {"field": "b1", "type": "quantitative", "scale": {"domain": [-55, 165], "nice": false, "zero": false}, "axis": null}, "y2": {"field": "b2"}}},
        {"data": {"name": "bTrace"}, "mark": {"type": "area", "color": "#ff0000"},
         "encoding": {"y": {"field": "r1", "type": "quantitative", "scale": {"domain": [-55, 165], "nice": false, "zero": false}, "axis": null}, "y2": {"field": "r2"}}},
        {"data": {"name": "bSpikesFiltered"}, "mark": {"type": "rule", "color": "#ff5050", "strokeWidth": 1.5},
         "encoding": {"y": {"field": "v", "type": "quantitative", "scale": {"domain": [-55, 165], "nice": false, "zero": false}, "axis": null}, "y2": {"field": "v2"}}},
        {"data": {"name": "bBreakRaw"}, "mark": {"type": "rule", "color": "#333333", "strokeWidth": 1.5},
         "encoding": {"y": {"field": "v", "type": "quantitative", "scale": {"domain": [-55, 165], "nice": false, "zero": false}, "axis": null}, "y2": {"field": "v2"}}},
        {"data": {"name": "bBreak"}, "mark": {"type": "rule", "color": "#ff0000", "strokeWidth": 3.5},
         "encoding": {"y": {"field": "v", "type": "quantitative", "scale": {"domain": [-55, 165], "nice": false, "zero": false}, "axis": null}, "y2": {"field": "v2"}}},
        {"data": {"name": "bBar"}, "mark": {"type": "rule", "color": "#111111", "strokeWidth": 2},
         "encoding": {"x2": {"field": "t2"}, "y": {"field": "v", "type": "quantitative", "scale": {"domain": [-55, 165], "nice": false, "zero": false}, "axis": null}, "y2": {"field": "v2"}}},
        {"data": {"name": "bLetter"}, "mark": {"type": "text", "fontSize": 25},
         "encoding": {"y": {"field": "v", "type": "quantitative", "scale": {"domain": [-55, 165], "nice": false, "zero": false}, "axis": null}, "text": {"field": "label"}}},
        {"data": {"name": "bText"}, "mark": {"type": "text", "fontSize": 22.5},
         "encoding": {"y": {"field": "v", "type": "quantitative", "scale": {"domain": [-55, 165], "nice": false, "zero": false}, "axis": null}, "text": {"field": "label"}}},
        {"data": {"name": "bSup"}, "mark": {"type": "text", "fontSize": 13},
         "encoding": {"y": {"field": "v", "type": "quantitative", "scale": {"domain": [-55, 165], "nice": false, "zero": false}, "axis": null}, "text": {"field": "label"}}}
      ]
    },
    {
      "spacing": 0,
      "hconcat": [
        {
          "width": 434,
          "height": 474,
          "encoding": {"x": {"field": "t", "type": "quantitative", "scale": {"domain": [-12.63, 101.58], "nice": false, "zero": false}, "axis": null}},
          "layer": [
            {"data": {"name": "cGrey"}, "mark": {"type": "rule", "color": "#b4b4b4", "strokeWidth": 1.5},
             "encoding": {"y": {"field": "v", "type": "quantitative", "scale": {"domain": [-62, 175], "nice": false, "zero": false}, "axis": null}, "y2": {"field": "v2"}}},
            {"data": {"name": "cNoise"}, "mark": {"type": "rule", "color": "#444444", "strokeWidth": 1},
             "encoding": {"y": {"field": "v", "type": "quantitative", "scale": {"domain": [-62, 175], "nice": false, "zero": false}, "axis": null}, "y2": {"field": "v2"}}},
            {"data": {"name": "cTrace"}, "mark": {"type": "area", "color": "#000000"},
             "encoding": {"y": {"field": "b1", "type": "quantitative", "scale": {"domain": [-62, 175], "nice": false, "zero": false}, "axis": null}, "y2": {"field": "b2"}}},
            {"data": {"name": "cDips"}, "mark": {"type": "rule", "color": "#d81a1a", "strokeWidth": 1.2},
             "encoding": {"y": {"field": "v", "type": "quantitative", "scale": {"domain": [-62, 175], "nice": false, "zero": false}, "axis": null}, "y2": {"field": "v2"}}},
            {"data": {"name": "cTrace"}, "mark": {"type": "area", "color": "#ff0000"},
             "encoding": {"y": {"field": "r1", "type": "quantitative", "scale": {"domain": [-62, 175], "nice": false, "zero": false}, "axis": null}, "y2": {"field": "r2"}}},
            {"data": {"name": "cBar"}, "mark": {"type": "rule", "color": "#111111", "strokeWidth": 2},
             "encoding": {"x2": {"field": "t2"}, "y": {"field": "v", "type": "quantitative", "scale": {"domain": [-62, 175], "nice": false, "zero": false}, "axis": null}, "y2": {"field": "v2"}}},
            {"data": {"name": "cLetter"}, "mark": {"type": "text", "fontSize": 25},
             "encoding": {"y": {"field": "v", "type": "quantitative", "scale": {"domain": [-62, 175], "nice": false, "zero": false}, "axis": null}, "text": {"field": "label"}}},
            {"data": {"name": "cText"}, "mark": {"type": "text", "fontSize": 22.5},
             "encoding": {"y": {"field": "v", "type": "quantitative", "scale": {"domain": [-62, 175], "nice": false, "zero": false}, "axis": null}, "text": {"field": "label"}}}
          ]
        },
        {
          "width": 435,
          "height": 474,
          "encoding": {"x": {"field": "t", "type": "quantitative", "scale": {"domain": [-10, 93.57], "nice": false, "zero": false}, "axis": null}},
          "layer": [
            {"data": {"name": "dGrey"}, "mark": {"type": "rule", "color": "#b4b4b4", "strokeWidth": 1.5},
             "encoding": {"y": {"field": "v", "type": "quantitative", "scale": {"domain": [-63.33, 200], "nice": false, "zero": false}, "axis": null}, "y2": {"field": "v2"}}},
            {"data": {"name": "dNoise"}, "mark": {"type": "rule", "color": "#444444", "strokeWidth": 1},
             "encoding": {"y": {"field": "v", "type": "quantitative", "scale": {"domain": [-63.33, 200], "nice": false, "zero": false}, "axis": null}, "y2": {"field": "v2"}}},
            {"data": {"name": "dTrace"}, "mark": {"type": "area", "color": "#000000"},
             "encoding": {"y": {"field": "b1", "type": "quantitative", "scale": {"domain": [-63.33, 200], "nice": false, "zero": false}, "axis": null}, "y2": {"field": "b2"}}},
            {"data": {"name": "dDips"}, "mark": {"type": "rule", "color": "#e02020", "strokeWidth": 1.2},
             "encoding": {"y": {"field": "v", "type": "quantitative", "scale": {"domain": [-63.33, 200], "nice": false, "zero": false}, "axis": null}, "y2": {"field": "v2"}}},
            {"data": {"name": "dTrace"}, "mark": {"type": "area", "color": "#ff0000"},
             "encoding": {"y": {"field": "r1", "type": "quantitative", "scale": {"domain": [-63.33, 200], "nice": false, "zero": false}, "axis": null}, "y2": {"field": "r2"}}},
            {"data": {"name": "dBar"}, "mark": {"type": "rule", "color": "#111111", "strokeWidth": 2},
             "encoding": {"x2": {"field": "t2"}, "y": {"field": "v", "type": "quantitative", "scale": {"domain": [-63.33, 200], "nice": false, "zero": false}, "axis": null}, "y2": {"field": "v2"}}},
            {"data": {"name": "dLetter"}, "mark": {"type": "text", "fontSize": 25},
             "encoding": {"y": {"field": "v", "type": "quantitative", "scale": {"domain": [-63.33, 200], "nice": false, "zero": false}, "axis": null}, "text": {"field": "label"}}},
            {"data": {"name": "dText"}, "mark": {"type": "text", "fontSize": 22.5},
             "encoding": {"y": {"field": "v", "type": "quantitative", "scale": {"domain": [-63.33, 200], "nice": false, "zero": false}, "axis": null}, "text": {"field": "label"}}}
          ]
        }
      ]
    }
  ]
}
